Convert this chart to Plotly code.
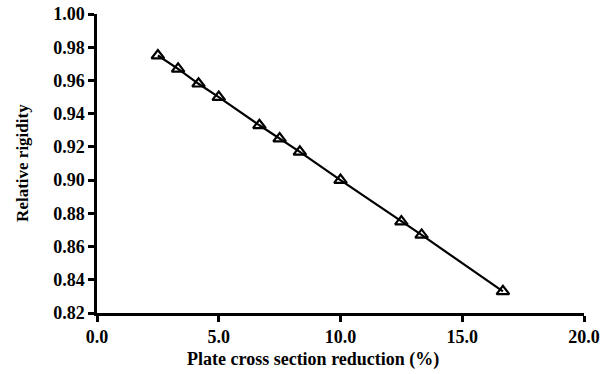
import plotly.graph_objects as go

# Plate cross-section reduction (%) and the resulting relative rigidity
reduction_pct = [2.5, 3.33, 4.17, 5.0, 6.67, 7.5, 8.33, 10.0, 12.5, 13.33, 16.67]
relative_rigidity = [0.975, 0.967, 0.958, 0.950, 0.933, 0.925, 0.917, 0.900, 0.875, 0.867, 0.833]

x_ticks = [0, 5, 10, 15, 20]
y_ticks = [0.82, 0.84, 0.86, 0.88, 0.90, 0.92, 0.94, 0.96, 0.98, 1.00]

x_title = "Plate cross section reduction (%)"
y_title = "Relative rigidity"

font_family = "Liberation Serif"

fig = go.Figure()
fig.add_trace(go.Scatter(
    x=reduction_pct,
    y=relative_rigidity,
    mode="lines+markers",
    line=dict(color="black", width=2.2),
    marker=dict(symbol="triangle-up-open", size=11, color="black",
                line=dict(color="black", width=2.2)),
    cliponaxis=False,
    showlegend=False,
))

axis_common = dict(
    showline=True, linecolor="black", linewidth=2.5,
    ticks="outside", ticklen=6, tickwidth=2.5, tickcolor="black",
    showgrid=False, zeroline=False, mirror=False, automargin=False,
    tickfont=dict(family=font_family, size=18, color="black", weight="bold"),
)

fig.update_layout(
    width=612, height=374,
    margin=dict(l=97, r=28, t=14, b=61),
    paper_bgcolor="white", plot_bgcolor="white",
    xaxis=dict(range=[0, 20], tickvals=x_ticks,
               ticktext=[f"{v:.1f}" for v in x_ticks], **axis_common),
    yaxis=dict(range=[0.82, 1.00], tickvals=y_ticks,
               ticktext=[f"{v:.2f}" for v in y_ticks], **axis_common),
)

# Axis titles placed as paper-anchored annotations
fig.add_annotation(
    text=x_title, xref="paper", yref="paper", x=0.4435, y=-0.157,
    xanchor="center", yanchor="middle", showarrow=False,
    font=dict(family=font_family, size=18, color="black", weight="bold"),
)
fig.add_annotation(
    text=y_title, xref="paper", yref="paper", x=-0.152, y=0.502,
    xanchor="center", yanchor="middle", showarrow=False, textangle=-90,
    font=dict(family=font_family, size=17, color="black", weight="bold"),
)

fig.write_html("out.html")
